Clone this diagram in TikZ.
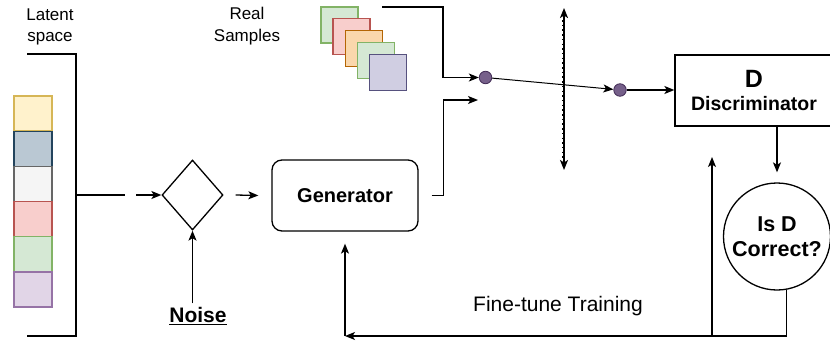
\documentclass[tikz,border=0pt]{standalone}
\usepackage{fontspec}
\setmainfont{Liberation Sans}
\usetikzlibrary{positioning,shapes.geometric,arrows.meta}
\definecolor{yfill}{HTML}{FFF2CC}\definecolor{yline}{HTML}{D6B656}
\definecolor{bfill}{HTML}{BAC8D3}\definecolor{bline}{HTML}{23445D}
\definecolor{gfill}{HTML}{F5F5F5}\definecolor{gline}{HTML}{666666}
\definecolor{rfill}{HTML}{F8CECC}\definecolor{rline}{HTML}{B85450}
\definecolor{nfill}{HTML}{D5E8D4}\definecolor{nline}{HTML}{82B366}
\definecolor{pfill}{HTML}{E1D5E7}\definecolor{pline}{HTML}{9673A6}
\definecolor{ofill}{HTML}{FAD7AC}\definecolor{oline}{HTML}{B46504}
\definecolor{sfill}{HTML}{D0CEE2}\definecolor{sline}{HTML}{56517E}
\definecolor{dotfill}{HTML}{76608A}\definecolor{dotline}{HTML}{432D57}
\tikzset{
  arr/.style={-{Stealth[length=10pt,width=8pt,inset=2.5pt]}},
  lbl/.style={align=center,font=\fontsize{17}{21.5}\selectfont},
  cell/.style={draw,line width=1.3pt,minimum width=38pt,minimum height=35pt,inner sep=0pt},
  sample/.style={draw,line width=1.3pt,minimum width=37pt,minimum height=36pt,inner sep=0pt},
  dot/.style={circle,draw=dotline,fill=dotfill,line width=0.8pt,minimum size=12.5pt,inner sep=0pt},
}
\begin{document}
\begin{tikzpicture}[x=1pt,y=-1pt,line width=1.3pt]
\useasboundingbox (0,0) rectangle (830,343);
\node[lbl] (latent) at (50,27) {Latent\\space};
\foreach \f/\d [count=\i from 0] in {yfill/yline,bfill/bline,gfill/gline,rfill/rline,nfill/nline,pfill/pline}
  \node[cell,fill=\f,draw=\d] (cell\i) at (33,113.5+35.2*\i) {};
\draw (27,54) -- (76,54) -- (76,336) -- (27,336);
\coordinate (brkmid) at (76,195);
\draw (brkmid) -- ++(49,0);

\node[diamond,draw,minimum width=61pt,minimum height=70pt,inner sep=0pt] (mix) at (192.5,195) {};
\node[draw,rounded corners=10pt,minimum width=146pt,minimum height=71pt,font=\bfseries\fontsize{20}{24}\selectfont] (gen) at (345,195.5) {Generator};
\node[font=\bfseries\fontsize{21}{25}\selectfont] (noise) at (198,316) {\underline{Noise}};
\draw[arr] ([xshift=-25pt]mix.west) -- (mix.west);
\draw[arr] ([xshift=12pt]mix.east) -- ([xshift=-13pt]gen.west);
\draw[arr] (noise.north -| mix.south) -- (mix.south);

\node[lbl] (real) at (247,26) {Real\\Samples};
\foreach \f/\d [count=\i from 0] in {nfill/nline,rfill/rline,ofill/oline,nfill/nline,sfill/sline}
  \node[sample,fill=\f,draw=\d] (smp\i) at (339.5+12.1*\i,25+11.8*\i) {};

\node[dot] (dot1) at (485.5,77.5) {};
\node[dot] (dot2) at (620,90) {};
\node[draw,minimum width=158pt,minimum height=71pt,inner sep=0pt,align=center] (disc) at (754,90.5)
  {{\bfseries\fontsize{25}{25}\selectfont D}\\[7pt]{\bfseries\fontsize{19.5}{22}\selectfont Discriminator}};
\node[circle,draw,minimum size=107pt,inner sep=0pt,align=center,font=\bfseries\fontsize{21.5}{25}\selectfont] (check) at (777,236.5) {Is D\\Correct?};

\coordinate (realout) at (382,7);
\coordinate (gout) at ([xshift=13pt]gen.east);
\coordinate (fakein) at (478,100);
\draw[arr] (realout) -| ([xshift=-36pt]dot1.west) -- (dot1.west);
\draw[arr] (gout) -- ++(12,0) |- (fakein);
\draw[arr,line width=1pt] (dot1) -- (dot2);
\draw[arr] (dot2) -- (disc.west |- dot2);

\coordinate (axtop) at (564,8);
\coordinate (axbot) at (564,170);
\draw[{Stealth[length=10pt,width=8pt,inset=2.5pt]}-{Stealth[length=10pt,width=8pt,inset=2.5pt]},line width=1.5pt] (axtop) -- (axbot);
\draw[line width=1.2pt,dash pattern=on 1.5pt off 3.2pt] ([xshift=-1.6pt,yshift=-12pt]axtop) -- ([xshift=-1.6pt,yshift=12pt]axbot);

\draw[arr] (disc.south -| check) -- ([yshift=10pt]check.north);
\coordinate (fb) at (345,336);
\coordinate (tap) at (712,336);
\coordinate (dfb) at (712,157);
\draw[arr] (check.-80) |- (fb);
\draw[arr] (fb) -- ([yshift=-12pt]gen.south);
\draw[arr] (tap) -- (dfb);
\node[font=\fontsize{21}{25}\selectfont] (ft) at (558,306) {Fine-tune Training};
\end{tikzpicture}
\end{document}
